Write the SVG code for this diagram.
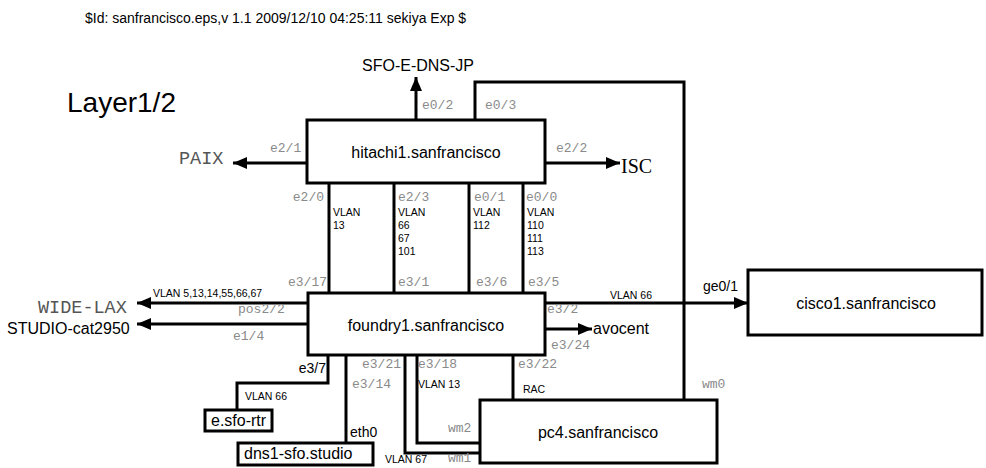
<svg xmlns="http://www.w3.org/2000/svg" width="986" height="468" viewBox="0 0 986 468">
<style>
.box{fill:#fff;stroke:#000;stroke-width:3}
.ln{fill:none;stroke:#000;stroke-width:3}
.arr{marker-end:url(#ah)}
.nm{font-family:"Liberation Sans",Arial,sans-serif;font-size:16px;fill:#000}
.pt{font-family:"Liberation Mono","Courier New",monospace;font-size:13px;fill:#8a8a8a}
.vl{font-family:"Liberation Sans",Arial,sans-serif;font-size:10.5px;fill:#000}
.cr{font-family:"Liberation Mono","Courier New",monospace;font-size:18.5px;fill:#555}
.lb{font-family:"Liberation Sans",Arial,sans-serif;font-size:14px;fill:#000}
</style>
<defs>
<marker id="ah" markerUnits="userSpaceOnUse" markerWidth="14" markerHeight="12" refX="14" refY="6" orient="auto">
<path d="M0,0 L14,6 L0,12 z" fill="#000"/>
</marker>
</defs>
<rect width="986" height="468" fill="#fff"/>
<text x="85" y="23" class="nm" style="font-size:14px">$Id: sanfrancisco.eps,v 1.1 2009/12/10 04:25:11 sekiya Exp $</text>
<text x="67" y="112" class="nm" style="font-size:28px">Layer1/2</text>

<g id="connectors">
<line class="ln arr" x1="416" y1="120" x2="416" y2="77"/>
<polyline class="ln" points="475,120 475,82 684,82 684,400"/>
<line class="ln arr" x1="307" y1="163" x2="233" y2="163"/>
<line class="ln arr" x1="545" y1="163" x2="620" y2="163"/>
<line class="ln" x1="329" y1="183" x2="329" y2="292"/>
<line class="ln" x1="394" y1="183" x2="394" y2="292"/>
<line class="ln" x1="469" y1="183" x2="469" y2="292"/>
<line class="ln" x1="523" y1="183" x2="523" y2="292"/>
<line class="ln arr" x1="308" y1="303" x2="137" y2="303"/>
<line class="ln arr" x1="308" y1="324" x2="137" y2="324"/>
<line class="ln arr" x1="545" y1="303" x2="748" y2="303"/>
<line class="ln arr" x1="545" y1="329" x2="592" y2="329"/>
<polyline class="ln" points="328,355 328,383 237,383 237,410"/>
<line class="ln" x1="346" y1="355" x2="346" y2="443"/>
<polyline class="ln" points="405,355 405,453 480,453"/>
<polyline class="ln" points="417,355 417,443 480,443"/>
<line class="ln" x1="513" y1="355" x2="513" y2="400"/>

<text x="422" y="109" class="pt">e0/2</text>
<text x="485" y="109" class="pt">e0/3</text>
<text x="270" y="152" class="pt">e2/1</text>
<text x="556" y="152" class="pt">e2/2</text>
<text x="324" y="201" class="pt" text-anchor="end">e2/0</text>
<text x="398" y="201" class="pt">e2/3</text>
<text x="474" y="201" class="pt">e0/1</text>
<text x="526" y="201" class="pt">e0/0</text>
<text x="327" y="286" class="pt" text-anchor="end">e3/17</text>
<text x="398" y="286" class="pt">e3/1</text>
<text x="476" y="286" class="pt">e3/6</text>
<text x="528" y="286" class="pt">e3/5</text>
<text class="vl"><tspan x="333" y="216">VLAN</tspan><tspan x="333" y="229">13</tspan></text>
<text class="vl"><tspan x="398" y="216">VLAN</tspan><tspan x="398" y="229">66</tspan><tspan x="398" y="242">67</tspan><tspan x="398" y="255">101</tspan></text>
<text class="vl"><tspan x="473" y="216">VLAN</tspan><tspan x="473" y="229">112</tspan></text>
<text class="vl"><tspan x="527" y="216">VLAN</tspan><tspan x="527" y="229">110</tspan><tspan x="527" y="242">111</tspan><tspan x="527" y="255">113</tspan></text>
<text x="153" y="297" class="vl">VLAN 5,13,14,55,66,67</text>
<text x="238" y="313" class="pt">pos2/2</text>
<text x="233" y="340" class="pt">e1/4</text>
<text x="610" y="299" class="vl">VLAN 66</text>
<text x="703" y="291" class="lb">ge0/1</text>
<text x="547" y="313" class="pt">e3/2</text>
<text x="551" y="349" class="pt">e3/24</text>
<text x="326" y="373" class="lb" text-anchor="end">e3/7</text>
<text x="245" y="400" class="vl">VLAN 66</text>
<text x="352" y="388" class="pt">e3/14</text>
<text x="350" y="437" class="lb">eth0</text>
<text x="362" y="368" class="pt">e3/21</text>
<text x="418" y="368" class="pt">e3/18</text>
<text x="418" y="388" class="vl">VLAN 13</text>
<text x="448" y="432" class="pt">wm2</text>
<text x="385" y="463" class="vl">VLAN 67</text>
<text x="448" y="462" class="pt">wm1</text>
<text x="518" y="368" class="pt">e3/22</text>
<text x="523" y="393" class="vl">RAC</text>
<text x="702" y="388" class="pt">wm0</text>
</g>

<g id="hitachi1">
<rect class="box" x="307" y="120" width="238" height="63"/>
<text x="426" y="158" class="nm" text-anchor="middle">hitachi1.sanfrancisco</text>
</g>
<g id="foundry1">
<rect class="box" x="308" y="293" width="237" height="62"/>
<text x="426" y="331" class="nm" text-anchor="middle">foundry1.sanfrancisco</text>
</g>
<g id="cisco1">
<rect class="box" x="748" y="270" width="234" height="65"/>
<text x="866" y="309" class="nm" text-anchor="middle">cisco1.sanfrancisco</text>
</g>
<g id="pc4">
<rect class="box" x="480" y="400" width="237" height="63"/>
<text x="598" y="438" class="nm" text-anchor="middle">pc4.sanfrancisco</text>
</g>
<g id="e-sfo-rtr">
<rect class="box" x="205" y="410" width="67" height="21"/>
<text x="211" y="426" class="nm">e.sfo-rtr</text>
</g>
<g id="dns1-sfo-studio">
<rect class="box" x="238" y="443" width="135" height="22"/>
<text x="244" y="459" class="nm">dns1-sfo.studio</text>
</g>
<g id="sfo-e-dns-jp"><text x="418" y="71" class="nm" text-anchor="middle">SFO-E-DNS-JP</text></g>
<g id="paix"><text x="179" y="164" class="cr">PAIX</text></g>
<g id="isc"><text x="621" y="173" style="font-family:'Liberation Serif','Times New Roman',serif;font-size:20px">ISC</text></g>
<g id="wide-lax"><text x="38" y="313" class="cr">WIDE-LAX</text></g>
<g id="studio-cat2950"><text x="7" y="334" class="nm">STUDIO-cat2950</text></g>
<g id="avocent"><text x="593" y="334" class="nm">avocent</text></g>
</svg>
